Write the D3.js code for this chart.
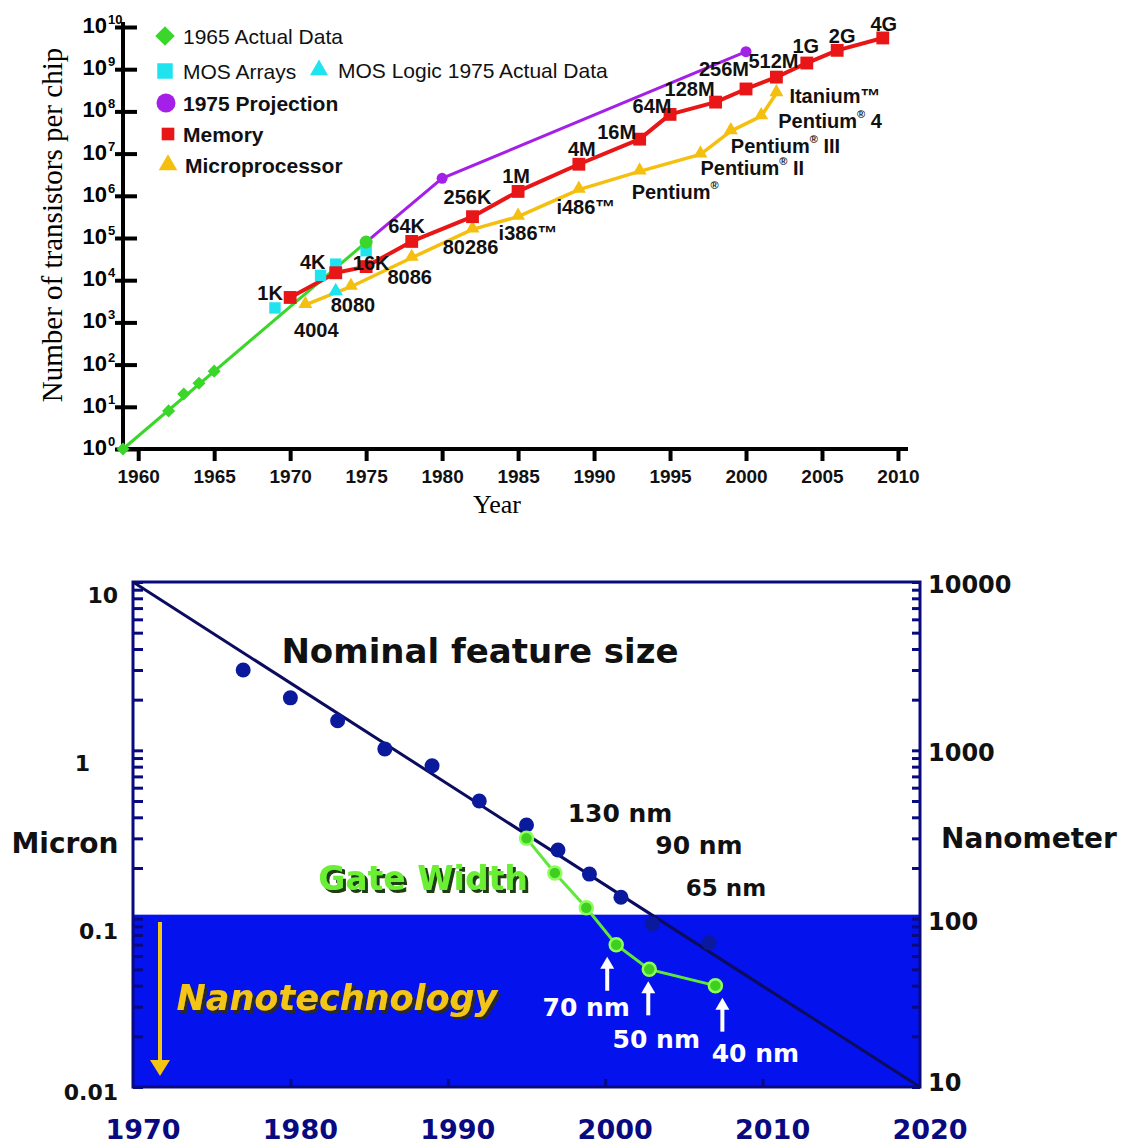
<!DOCTYPE html>
<html>
<head>
<meta charset="utf-8">
<script src="https://cdn.jsdelivr.net/npm/d3@7"></script>
<style>
  body { margin: 0; background: #fff; }
  svg { display: block; }
</style>
</head>
<body>
<svg id="chart" width="1125" height="1146"></svg>
<script>
// ---------- Transistors per chip ----------
const actual1965Years  = [1959, 1962, 1963, 1964, 1965];
const actual1965Counts = [1, 8, 20, 36, 70];
const actual1975Point  = [1975, 8e4];
const mosArrayYears  = [1969, 1972, 1973, 1975];
const mosArrayCounts = [2.2e3, 1.3e4, 2.4e4, 5e4];
const mosLogicYears  = [1973];
const mosLogicCounts = [5.5e3];
const projectionYears  = [1975, 1980, 2000];
const projectionCounts = [8e4, 2.6e6, 2.6e9];
const memoryYears  = [1970, 1973, 1975, 1978, 1982, 1985, 1989, 1993, 1995, 1998, 2000, 2002, 2004, 2006, 2009];
const memoryCounts = [3.9e3, 1.5e4, 2.1e4, 8.3e4, 3.2e5, 1.27e6, 5.6e6, 2.2e7, 8.5e7, 1.66e8, 3.4e8, 6.5e8, 1.4e9, 2.8e9, 5.5e9];
const memoryNames  = ["1K", "4K", "16K", "64K", "256K", "1M", "4M", "16M", "64M", "128M", "256M", "512M", "1G", "2G", "4G"];
const cpuYears  = [1971, 1974, 1978, 1982, 1985, 1989, 1993, 1997, 1999, 2001, 2002];
const cpuCounts = [2.6e3, 7e3, 3.4e4, 1.6e5, 3.2e5, 1.4e6, 3.8e6, 9.6e6, 3.4e7, 7.7e7, 2.7e8];
const cpuNames  = ["4004", "8080", "8086", "80286", "i386™", "i486™", "Pentium®", "Pentium® II", "Pentium® III", "Pentium® 4", "Itanium™"];
const topYearTicks = [1960, 1965, 1970, 1975, 1980, 1985, 1990, 1995, 2000, 2005, 2010];
const topPowerTicks = [0, 1, 2, 3, 4, 5, 6, 7, 8, 9, 10];

// ---------- Feature size (microns) ----------
const nodeYears   = [1977, 1980, 1983, 1986, 1989, 1992, 1995, 1997, 1999, 2001, 2003, 2006.6];
const nodeMicrons = [3.0, 2.05, 1.5, 1.02, 0.81, 0.5, 0.36, 0.256, 0.184, 0.134, 0.093, 0.072];
const gateYears   = [1995, 1996.8, 1998.8, 2000.7, 2002.8, 2007];
const gateMicrons = [0.3, 0.187, 0.116, 0.07, 0.05, 0.04];
const gateNames   = ["", "", "", "70 nm", "50 nm", "40 nm"];
const trendYears   = [1970, 2020];
const trendMicrons = [10, 0.01];
const nodeNames = ["130 nm", "90 nm", "65 nm"];
const bottomYearTicks = [1970, 1980, 1990, 2000, 2010, 2020];
const micronTicks = [10, 1, 0.1, 0.01];
const micronLabels = ["10", "1", "0.1", "0.01"];
const nanoTicks = [10000, 1000, 100, 10];
const nanoBoundaryMicrons = 0.1;

const svg = d3.select("#chart");
svg.append("rect").attr("width", 1125).attr("height", 1146).attr("fill", "#fff");

const SANS = "'Liberation Sans', Arial, Helvetica, sans-serif";
const NARROW = "'Liberation Sans Narrow', 'Arial Narrow', 'Liberation Sans', Arial, sans-serif";
const SERIF = "'Liberation Serif', 'Times New Roman', serif";
const WIDE = "'DejaVu Sans', Verdana, sans-serif";

const C = {
  green: "#3ad62a", cyan: "#1fe3ee", purple: "#a41fe8", red: "#e81616", yellow: "#f5bf10",
  navy: "#0a0a80", dot: "#0b1a9c", band: "#0412ee", gate: "#5fe83a"
};

// hard offset shadows for the title words
const defs = svg.append("defs");
const makeShadow = (id, color) => {
  const f = defs.append("filter").attr("id", id).attr("x", "-5%").attr("y", "-20%").attr("width", "115%").attr("height", "150%");
  f.append("feFlood").attr("flood-color", color).attr("result", "c");
  f.append("feComposite").attr("in", "c").attr("in2", "SourceAlpha").attr("operator", "in").attr("result", "s");
  f.append("feOffset").attr("in", "s").attr("dx", 2.5).attr("dy", 2.5).attr("result", "o");
  const m = f.append("feMerge");
  m.append("feMergeNode").attr("in", "o");
  m.append("feMergeNode").attr("in", "SourceGraphic");
};
makeShadow("shadowGreen", "#1f3d12");
makeShadow("shadowDark", "#2a2a2a");

// =================== Transistor chart ===================
const topG = svg.append("g");
const xT = d3.scaleLinear().domain([1959, 2010.66]).range([123, 908]);
const yT = d3.scaleLog().domain([1, 1e10]).range([449, 27]);

// y axis
const yAxis = d3.axisLeft(yT).tickValues(topPowerTicks.map(p => 10 ** p)).tickFormat("").tickSizeOuter(0);
const yAxisG = topG.append("g").attr("transform", `translate(${xT(1959)},0)`).call(yAxis);
yAxisG.select(".domain").attr("stroke", "#000").attr("stroke-width", 4).attr("d", `M0,${yT(1e10) - 5}V${yT(1) + 3}`);
yAxisG.selectAll(".tick line").attr("stroke", "#000").attr("stroke-width", 4).attr("x1", -8).attr("x2", 14);

topPowerTicks.forEach(p => {
  const y = yT(10 ** p);
  topG.append("text").attr("x", 107).attr("y", y + 6).attr("text-anchor", "end")
    .attr("font-family", SANS).attr("font-weight", "bold").attr("font-size", 22).text("10");
  topG.append("text").attr("x", 108).attr("y", y - 3)
    .attr("font-family", SANS).attr("font-weight", "bold").attr("font-size", 13).text(String(p));
});

// x axis
const xAxis = d3.axisBottom(xT).tickValues(topYearTicks).tickFormat(d3.format("d")).tickSize(12).tickSizeOuter(0).tickPadding(9);
const xAxisG = topG.append("g").attr("transform", `translate(0,${yT(1)})`).call(xAxis);
xAxisG.select(".domain").attr("stroke", "#000").attr("stroke-width", 4).attr("d", `M${xT(1959) - 2},0H${xT(2010.66)}`);
xAxisG.selectAll(".tick line").attr("stroke", "#000").attr("stroke-width", 4);
xAxisG.selectAll(".tick text").attr("font-family", SANS).attr("font-weight", "bold").attr("font-size", 19).attr("fill", "#111");

topG.append("text").attr("x", 497).attr("y", 513).attr("text-anchor", "middle")
  .attr("font-family", SERIF).attr("font-size", 26).text("Year");
topG.append("text").attr("transform", "translate(62,225) rotate(-90)").attr("text-anchor", "middle")
  .attr("font-family", SERIF).attr("font-size", 29).text("Number of transistors per chip");

const lineT = d3.line().x(d => xT(d[0])).y(d => yT(d[1]));
const zip = (a, b) => a.map((v, i) => [v, b[i]]);

// 1965 actual data + extension to 1975
const actualPts = zip(actual1965Years, actual1965Counts);
topG.append("path").attr("d", lineT([actualPts[0], actual1975Point])).attr("fill", "none")
  .attr("stroke", C.green).attr("stroke-width", 3);
// 1975 projection
topG.append("path").attr("d", lineT(zip(projectionYears, projectionCounts))).attr("fill", "none")
  .attr("stroke", C.purple).attr("stroke-width", 3);
// microprocessor
topG.append("path").attr("d", lineT(zip(cpuYears, cpuCounts))).attr("fill", "none")
  .attr("stroke", C.yellow).attr("stroke-width", 3.5).attr("stroke-linejoin", "round");
// memory
topG.append("path").attr("d", lineT(zip(memoryYears, memoryCounts))).attr("fill", "none")
  .attr("stroke", C.red).attr("stroke-width", 4).attr("stroke-linejoin", "round");

const sym = (type, size) => d3.symbol().type(type).size(size)();

// markers
topG.selectAll(".mosA").data(zip(mosArrayYears, mosArrayCounts)).join("path")
  .attr("d", sym(d3.symbolSquare, 130)).attr("fill", C.cyan)
  .attr("transform", d => `translate(${xT(d[0])},${yT(d[1])})`);
topG.selectAll(".mosL").data(zip(mosLogicYears, mosLogicCounts)).join("path")
  .attr("d", sym(d3.symbolTriangle, 90)).attr("fill", C.cyan)
  .attr("transform", d => `translate(${xT(d[0])},${yT(d[1])})`);
topG.selectAll(".act").data(actualPts).join("path")
  .attr("d", sym(d3.symbolSquare, 85)).attr("fill", C.green)
  .attr("transform", d => `translate(${xT(d[0])},${yT(d[1])}) rotate(45)`);
topG.append("circle").attr("cx", xT(actual1975Point[0])).attr("cy", yT(actual1975Point[1])).attr("r", 6.5).attr("fill", C.green);
topG.selectAll(".proj").data(zip(projectionYears, projectionCounts).slice(1)).join("circle")
  .attr("cx", d => xT(d[0])).attr("cy", d => yT(d[1])).attr("r", 5.5).attr("fill", C.purple);
topG.selectAll(".cpu").data(zip(cpuYears, cpuCounts)).join("path")
  .attr("d", sym(d3.symbolTriangle, 85)).attr("fill", C.yellow)
  .attr("transform", d => `translate(${xT(d[0])},${yT(d[1]) - 1})`);
topG.selectAll(".mem").data(zip(memoryYears, memoryCounts)).join("path")
  .attr("d", sym(d3.symbolSquare, 165)).attr("fill", C.red)
  .attr("transform", d => `translate(${xT(d[0])},${yT(d[1])})`);

// memory labels (centre offsets from each square)
const memOffsets = [[-20,-4],[-23,-11],[5,-4],[-5,-15],[-5,-20],[-2,-15],[3,-15],[-23,-7],[-18,-8],[-26,-13],[-22,-20],[-3,-16],[-1,-17],[5,-14],[1,-14]];
memoryNames.forEach((name, i) => {
  topG.append("text").attr("x", xT(memoryYears[i]) + memOffsets[i][0]).attr("y", yT(memoryCounts[i]) + memOffsets[i][1])
    .attr("text-anchor", "middle").attr("dominant-baseline", "central")
    .attr("font-family", NARROW).attr("font-weight", "bold").attr("font-size", 20).attr("fill", "#111")
    .text(name);
});

// microprocessor labels
const cpuOffsets = [[11,25,"middle"],[2,18,"middle"],[-2,19,"middle"],[-2,18,"middle"],[10,16,"middle"],[7,17,"middle"],
  [-8,21,"start"],[0,14,"start"],[0,15,"start"],[17,5,"start"],[13,3,"start"]];
cpuNames.forEach((name, i) => {
  const [dx, dy, anchor] = cpuOffsets[i];
  const t = topG.append("text").attr("x", xT(cpuYears[i]) + dx).attr("y", yT(cpuCounts[i]) + dy)
    .attr("text-anchor", anchor).attr("dominant-baseline", "central")
    .attr("font-family", NARROW).attr("font-weight", "bold").attr("font-size", 20).attr("fill", "#111");
  const parts = name.split("®");
  if (parts.length === 2) {
    t.append("tspan").text(parts[0]);
    t.append("tspan").attr("font-size", 11).attr("dy", -7).text("®");
    t.append("tspan").attr("dy", 7).text(parts[1]);
  } else {
    t.text(name);
  }
});

// legend
const legend = topG.append("g").attr("font-family", SANS).attr("font-size", 21).attr("fill", "#111");
const legendRow = (sx, sy, draw, tx, label, bold) => {
  draw(legend.append("g").attr("transform", `translate(${sx},${sy})`));
  legend.append("text").attr("x", tx).attr("y", sy).attr("dominant-baseline", "central")
    .attr("font-weight", bold ? "bold" : "normal").text(label);
};
legendRow(165, 36, g => g.append("path").attr("d", sym(d3.symbolSquare, 190)).attr("transform", "rotate(45)").attr("fill", C.green), 183, "1965 Actual Data", false);
legendRow(165, 71, g => g.append("path").attr("d", sym(d3.symbolSquare, 240)).attr("fill", C.cyan), 183, "MOS Arrays", false);
legendRow(319, 70, g => g.append("path").attr("d", sym(d3.symbolTriangle, 140)).attr("fill", C.cyan), 338, "MOS Logic 1975 Actual Data", false);
legendRow(166, 103, g => g.append("circle").attr("r", 9.5).attr("fill", C.purple), 183, "1975 Projection", true);
legendRow(168, 134, g => g.append("path").attr("d", sym(d3.symbolSquare, 160)).attr("fill", C.red), 183, "Memory", true);
legendRow(168, 165, g => g.append("path").attr("d", sym(d3.symbolTriangle, 150)).attr("fill", C.yellow), 185, "Microprocessor", true);

// =================== Feature size chart ===================
const bot = svg.append("g");
const xB = d3.scaleLinear().domain([1970, 2020]).range([133, 920]);
const yB = d3.scaleLog().domain([0.01, 10]).range([1087, 582]);
const yNm = d3.scaleLog().domain([10, 10000]).range([1087, 582]);
const x0 = xB(1970), x1 = xB(2020), yTop = yB(10), yBot = yB(0.01);

// nanotechnology band
bot.append("rect").attr("x", x0).attr("y", yB(nanoBoundaryMicrons) - 4).attr("width", x1 - x0)
  .attr("height", yBot - yB(nanoBoundaryMicrons) + 4).attr("fill", C.band);

// left axis ticks (major + minor, inward)
const minorMicrons = [];
[0.01, 0.1, 1].forEach(dec => { for (let k = 2; k <= 9; k++) minorMicrons.push(dec * k); });
const leftAxis = d3.axisRight(yB).tickValues(micronTicks.concat(minorMicrons)).tickFormat("").tickSize(10).tickSizeOuter(0);
const leftG = bot.append("g").attr("transform", `translate(${x0},0)`).call(leftAxis);
leftG.select(".domain").remove();
leftG.selectAll(".tick line").attr("stroke", C.navy).attr("stroke-width", 3);

const minorNm = [];
[10, 100, 1000].forEach(dec => { for (let k = 2; k <= 9; k++) minorNm.push(dec * k); });
const rightAxis = d3.axisLeft(yNm).tickValues(nanoTicks.concat(minorNm)).tickFormat("").tickSize(8).tickSizeOuter(0);
const rightG = bot.append("g").attr("transform", `translate(${x1},0)`).call(rightAxis);
rightG.select(".domain").remove();
rightG.selectAll(".tick line").attr("stroke", C.navy).attr("stroke-width", 3);

const bottomAxis = d3.axisTop(xB).tickValues(bottomYearTicks.slice(1, -1)).tickFormat("").tickSize(8).tickSizeOuter(0);
const bottomG = bot.append("g").attr("transform", `translate(0,${yBot})`).call(bottomAxis);
bottomG.select(".domain").remove();
bottomG.selectAll(".tick line").attr("stroke", C.navy).attr("stroke-width", 3);

// frame
bot.append("rect").attr("x", x0).attr("y", yTop).attr("width", x1 - x0).attr("height", yBot - yTop)
  .attr("fill", "none").attr("stroke", C.navy).attr("stroke-width", 3);

// labels on axes
micronTicks.forEach((v, i) => {
  bot.append("text").attr("x", v === 1 ? 90 : 118).attr("y", yB(v) + (v === 0.01 ? 5 : 13))
    .attr("text-anchor", "end").attr("dominant-baseline", "central")
    .attr("font-family", WIDE).attr("font-weight", "bold").attr("font-size", 22).attr("fill", "#111")
    .text(micronLabels[i]);
});
nanoTicks.forEach(v => {
  bot.append("text").attr("x", 928).attr("y", yNm(v) + (v === 10 ? -4 : 3))
    .attr("dominant-baseline", "central")
    .attr("font-family", WIDE).attr("font-weight", "bold").attr("font-size", 24).attr("fill", "#111")
    .text(String(v));
});
bottomYearTicks.forEach(v => {
  bot.append("text").attr("x", xB(v) + 10).attr("y", 1139).attr("text-anchor", "middle")
    .attr("font-family", WIDE).attr("font-weight", "bold").attr("font-size", 27).attr("fill", C.navy)
    .text(String(v));
});
bot.append("text").attr("x", 65).attr("y", 843).attr("text-anchor", "middle").attr("dominant-baseline", "central")
  .attr("font-family", WIDE).attr("font-weight", "bold").attr("font-size", 28).attr("fill", "#111").text("Micron");
bot.append("text").attr("x", 1029).attr("y", 838).attr("text-anchor", "middle").attr("dominant-baseline", "central")
  .attr("font-family", WIDE).attr("font-weight", "bold").attr("font-size", 28).attr("fill", "#111").text("Nanometer");

// trend line and nominal feature sizes
const lineB = d3.line().x(d => xB(d[0])).y(d => yB(d[1]));
bot.append("path").attr("d", lineB(zip(trendYears, trendMicrons))).attr("fill", "none")
  .attr("stroke", "#0c0c5e").attr("stroke-width", 3);
bot.selectAll(".node").data(zip(nodeYears, nodeMicrons)).join("circle")
  .attr("cx", d => xB(d[0])).attr("cy", d => yB(d[1])).attr("r", 7.5).attr("fill", C.dot);

// gate width
bot.append("path").attr("d", lineB(zip(gateYears, gateMicrons))).attr("fill", "none")
  .attr("stroke", C.gate).attr("stroke-width", 3);
bot.selectAll(".gate").data(zip(gateYears, gateMicrons)).join("circle")
  .attr("cx", d => xB(d[0])).attr("cy", d => yB(d[1])).attr("r", 6.5)
  .attr("fill", "#3fcf20").attr("stroke", "#8cff5a").attr("stroke-width", 2.5);

// white arrows to the nanometre gate widths
const gateLabelPos = [null, null, null, [-30, 63, -9], [7, 70, -1], [40, 68, 7]];
gateYears.forEach((yr, i) => {
  if (!gateNames[i]) return;
  const px = xB(yr), py = yB(gateMicrons[i]);
  const [lx, ly, ax] = gateLabelPos[i];
  const ax0 = px + ax, tip = py + 12, tail = py + 46;
  bot.append("line").attr("x1", ax0).attr("x2", ax0).attr("y1", tip + 8).attr("y2", tail)
    .attr("stroke", "#fff").attr("stroke-width", 4);
  bot.append("path").attr("d", `M${ax0},${tip} L${ax0 - 7},${tip + 12} L${ax0 + 7},${tip + 12} Z`).attr("fill", "#fff");
  bot.append("text").attr("x", px + lx).attr("y", py + ly).attr("text-anchor", "middle").attr("dominant-baseline", "central")
    .attr("font-family", WIDE).attr("font-weight", "bold").attr("font-size", 25).attr("fill", "#fff")
    .text(gateNames[i]);
});

// node size annotations
[[620, 813, 25], [699, 845, 25], [726, 888, 23]].forEach(([x, y, fs], i) => {
  bot.append("text").attr("x", x).attr("y", y).attr("text-anchor", "middle").attr("dominant-baseline", "central")
    .attr("font-family", WIDE).attr("font-weight", "bold").attr("font-size", fs).attr("fill", "#111").text(nodeNames[i]);
});

bot.append("text").attr("x", 480).attr("y", 651).attr("text-anchor", "middle").attr("dominant-baseline", "central")
  .attr("font-family", WIDE).attr("font-weight", "bold").attr("font-size", 34).attr("fill", "#111")
  .text("Nominal feature size");

// shadowed titles
bot.append("text").attr("x", 423).attr("y", 878).attr("text-anchor", "middle").attr("dominant-baseline", "central")
  .attr("font-family", WIDE).attr("font-weight", "bold").attr("font-size", 33).attr("fill", "#6bef34")
  .attr("filter", "url(#shadowGreen)").text("Gate Width");
bot.append("text").attr("x", 337).attr("y", 998).attr("text-anchor", "middle").attr("dominant-baseline", "central")
  .attr("font-family", WIDE).attr("font-weight", "bold").attr("font-style", "italic").attr("font-size", 35).attr("fill", "#f3c514")
  .attr("filter", "url(#shadowDark)").text("Nanotechnology");

// downward arrow into the nanometre regime
bot.append("line").attr("x1", 160).attr("x2", 160).attr("y1", 922).attr("y2", 1062)
  .attr("stroke", "#f3c514").attr("stroke-width", 4);
bot.append("path").attr("d", "M160,1076 L150,1060 L170,1060 Z").attr("fill", "#f3c514");
</script>
</body>
</html>
